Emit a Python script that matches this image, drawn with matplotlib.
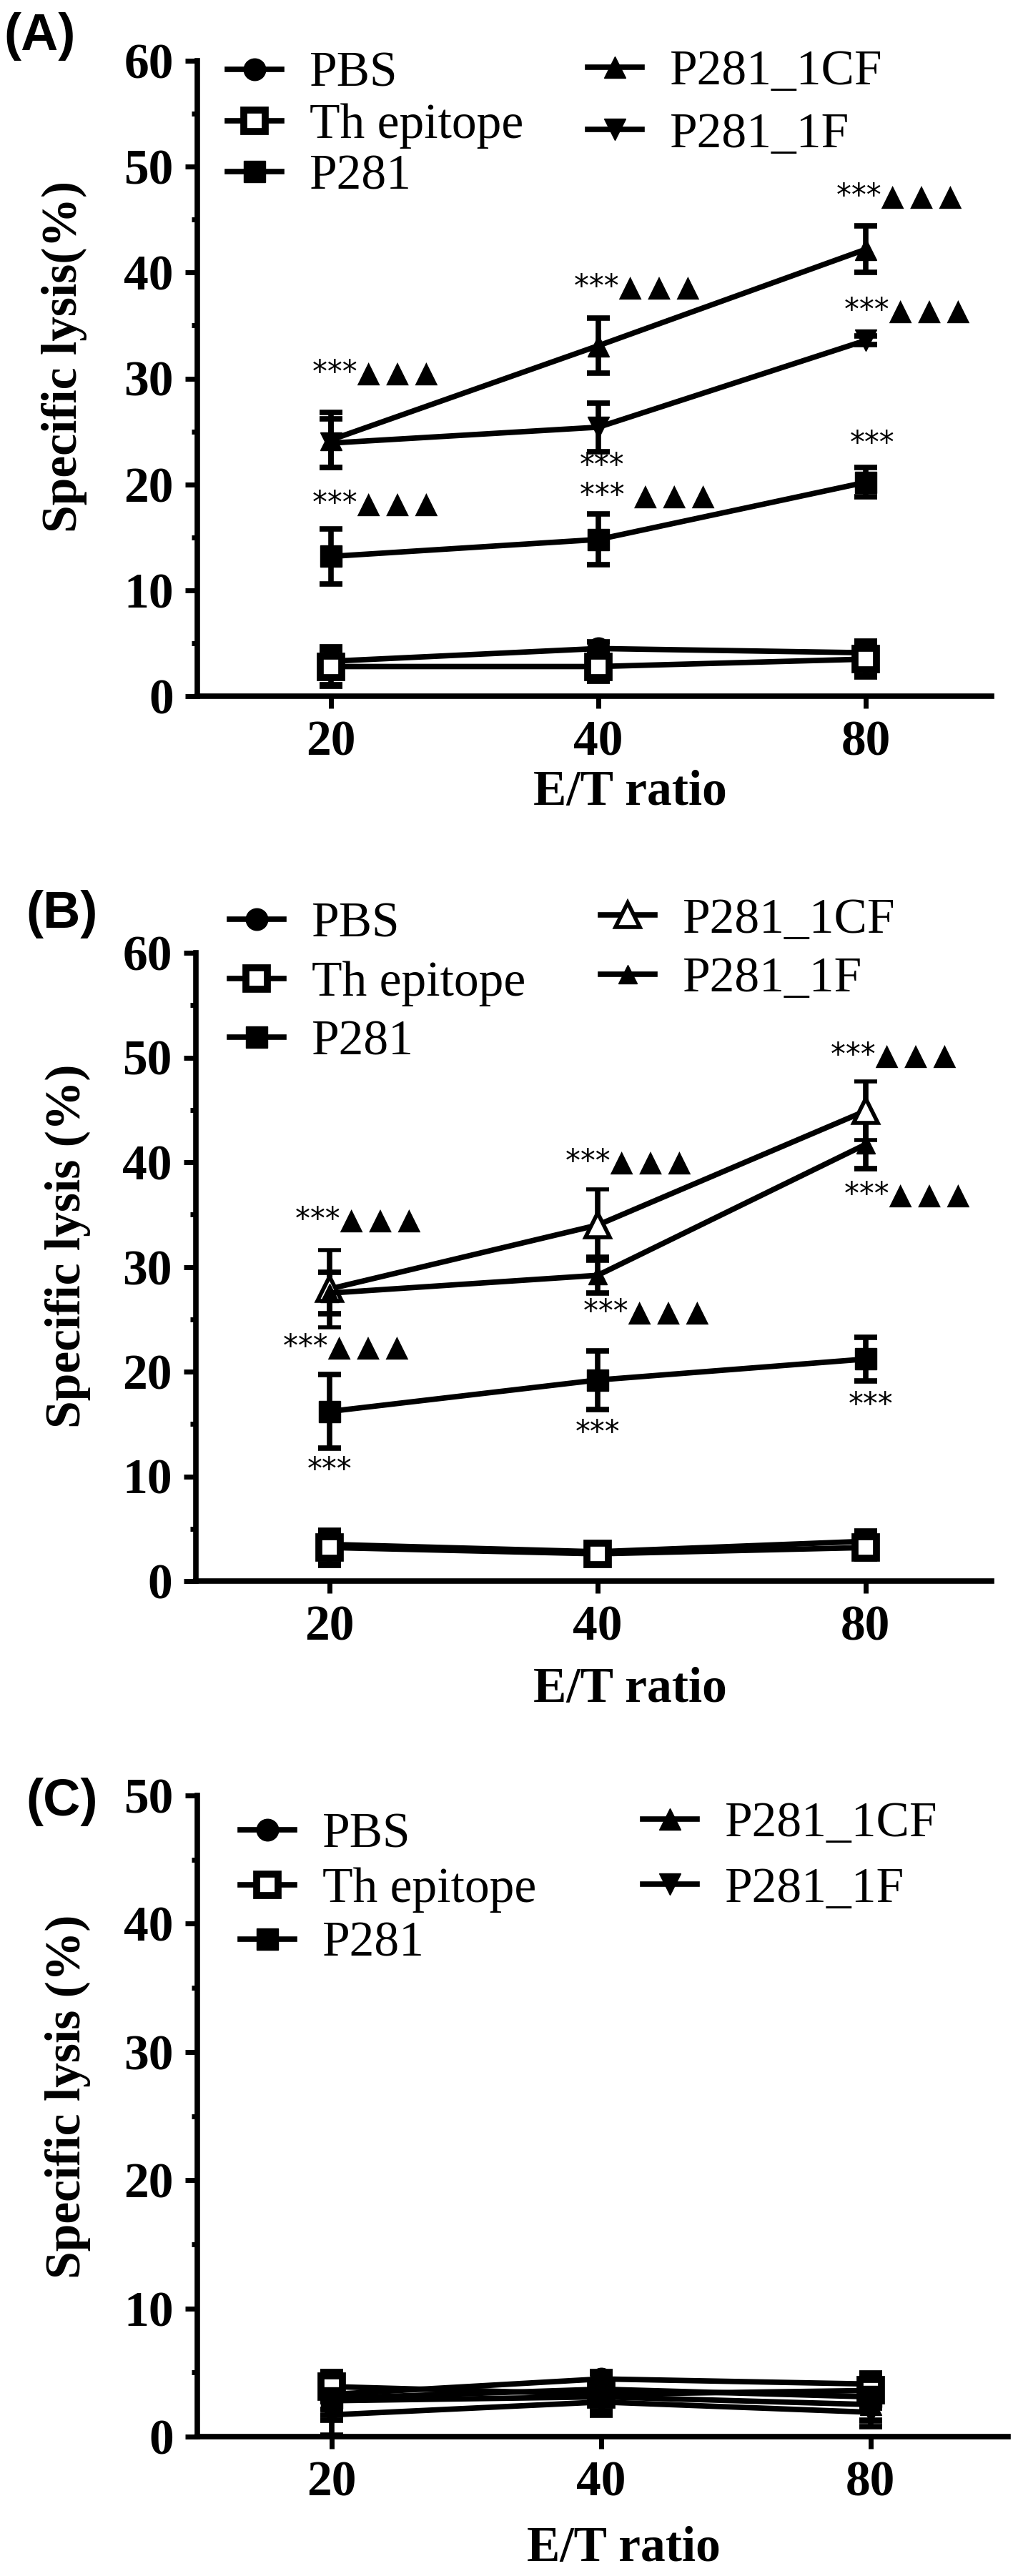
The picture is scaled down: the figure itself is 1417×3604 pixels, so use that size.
import matplotlib.pyplot as plt
import numpy as np
from matplotlib.ticker import MultipleLocator

plt.rcParams['font.family'] = ['Liberation Serif', 'DejaVu Sans']

# ---- data ----
ratios = ['20', '40', '80']
groups = ['PBS', 'Th epitope', 'P281', 'P281_1CF', 'P281_1F']

# panel A
pbs_a = [3.3, 4.5, 4.1]
pbs_a_err = [1.0, 0.6, 0.9]
th_a = [2.8, 2.8, 3.5]
th_a_err = [1.8, 1.3, 1.6]
p281_a = [13.2, 14.8, 20.2]
p281_a_err = [2.6, 2.4, 1.4]
cf_a = [24.2, 33.1, 42.2]
cf_a_err = [2.6, 2.6, 2.2]
f_a = [23.9, 25.4, 33.6]
f_a_err = [2.3, 2.3, 0.4]

# panel B
pbs_b = [3.5, 2.8, 3.8]
pbs_b_err = [0.8, 0.5, 1.0]
th_b = [3.2, 2.6, 3.2]
th_b_err = [1.6, 0.8, 1.0]
p281_b = [16.2, 19.2, 21.2]
p281_b_err = [3.5, 2.8, 2.1]
cf_b = [27.9, 34.0, 44.9]
cf_b_err = [3.7, 3.4, 2.8]
f_b = [27.5, 29.2, 41.7]
f_b_err = [2.0, 1.7, 2.3]

# panel C
pbs_c = [3.3, 4.5, 4.1]
pbs_c_err = [1.2, 0.6, 0.8]
th_c = [3.9, 3.3, 3.6]
th_c_err = [1.1, 0.8, 1.3]
p281_c = [3.0, 3.7, 3.1]
p281_c_err = [1.3, 1.2, 1.8]
cf_c = [2.8, 3.1, 2.5]
cf_c_err = [1.5, 1.1, 1.3]
f_c = [1.7, 2.7, 1.9]
f_c_err = [1.6, 1.0, 1.1]

# significance labels: (x index, y value, text, alignment)
tri = '▲\u2009▲\u2009▲'
notes_a = [(-0.07, 30.5, '***' + tri, 'left'), (-0.07, 18.2, '***' + tri, 'left'),
           (0.91, 38.6, '***' + tri, 'left'), (0.93, 21.7, '***', 'left'),
           (0.93, 18.9, '*** ' + tri, 'left'), (1.89, 47.2, '***' + tri, 'left'),
           (1.92, 36.4, '***' + tri, 'left'), (1.94, 23.8, '***', 'left')]
notes_b = [(-0.13, 34.5, '***' + tri, 'left'), (-0.175, 22.3, '***' + tri, 'left'),
           (0.0, 10.6, '***', 'center'), (0.88, 40.0, '***' + tri, 'left'),
           (0.945, 25.7, '***' + tri, 'left'), (1.0, 14.1, '***', 'center'),
           (1.87, 50.2, '***' + tri, 'left'), (1.92, 36.9, '***' + tri, 'left'),
           (2.02, 16.8, '***', 'center')]

W, H = 1417, 3604
fig = plt.figure(figsize=(W / 100, H / 100), dpi=100)


def fpos(x, y):
    return (x / W, 1 - y / H)


def add_panel(left, top, right, bottom):
    return fig.add_axes([left / W, 1 - bottom / H, (right - left) / W, (bottom - top) / H])


x = np.arange(len(ratios))


def draw(ax, series, styles, ymax, xmax):
    handles = []
    for (vals, errs), st in zip(series, styles):
        c = ax.errorbar(x, vals, yerr=errs, color='black', lw=5.5, elinewidth=5.5,
                        capsize=11.5, capthick=5.5, mec='black', clip_on=False, **st)
        handles.append(c[0])
    ax.set_xlim(-0.5, xmax)
    ax.set_ylim(0, ymax)
    ax.set_xticks(x)
    ax.set_xticklabels(ratios, fontsize=50, fontweight='bold')
    yt = np.arange(0, ymax + 1, 10)
    ax.set_yticks(yt)
    ax.set_yticklabels([str(v) for v in yt], fontsize=50, fontweight='bold')
    ax.yaxis.set_minor_locator(MultipleLocator(5))
    for s in ['top', 'right']:
        ax.spines[s].set_visible(False)
    for s in ['left', 'bottom']:
        ax.spines[s].set_linewidth(5.5)
    ax.tick_params(axis='both', which='major', length=12, width=5, pad=12)
    ax.tick_params(axis='y', which='minor', length=6, width=5)
    ax.tick_params(axis='x', which='minor', length=0)
    return handles


def legends(ax, handles, c1, ls1, c2, ls2):
    kw = dict(loc='center left', bbox_transform=fig.transFigure, frameon=False,
              borderpad=0, borderaxespad=0, handlelength=1.1, handletextpad=0.55,
              numpoints=1, prop={'family': 'Liberation Serif', 'size': 50})
    l1 = ax.legend(handles[:3], groups[:3], bbox_to_anchor=fpos(*c1), labelspacing=ls1, **kw)
    ax.add_artist(l1)
    ax.legend(handles[3:], groups[3:], bbox_to_anchor=fpos(*c2), labelspacing=ls2, **kw)


ms = 22
st_pbs = dict(marker='o', ms=ms, mfc='black')
st_th = dict(marker='s', ms=22, mfc='white', mew=7)
st_p281 = dict(marker='s', ms=22, mfc='black')
st_up = dict(marker='^', ms=ms, mfc='black')
st_down = dict(marker='v', ms=ms, mfc='black')
st_up_open = dict(marker='^', ms=24, mfc='white', mew=4)

note_font = dict(fontsize=30, family='DejaVu Sans', va='center')

# ---- panel A ----
ax_a = add_panel(276, 85, 1387, 974)
h = draw(ax_a, [(pbs_a, pbs_a_err), (th_a, th_a_err), (p281_a, p281_a_err),
                (cf_a, cf_a_err), (f_a, f_a_err)],
         [st_pbs, st_th, st_p281, st_up, st_down], 60, 2.47)
legends(ax_a, h, (318, 176), 0.12, (822, 145), 0.35)
for nx, ny, txt, ha in notes_a:
    ax_a.text(nx, ny, txt, ha=ha, **note_font)

# ---- panel B ----
ax_b = add_panel(274, 1333, 1387, 2212)
h = draw(ax_b, [(pbs_b, pbs_b_err), (th_b, th_b_err), (p281_b, p281_b_err),
                (cf_b, cf_b_err), (f_b, f_b_err)],
         [st_pbs, st_th, st_p281, st_up_open, dict(marker='^', ms=19, mfc='black')], 60, 2.47)
legends(ax_b, h, (321, 1376), 0.27, (840, 1329), 0.27)
for nx, ny, txt, ha in notes_b:
    ax_b.text(nx, ny, txt, ha=ha, **note_font)

# ---- panel C ----
ax_c = add_panel(276, 2512, 1410, 3409)
h = draw(ax_c, [(pbs_c, pbs_c_err), (th_c, th_c_err), (p281_c, p281_c_err),
                (cf_c, cf_c_err), (f_c, f_c_err)],
         [st_pbs, st_th, st_p281, st_up, st_down], 50, 2.51)
legends(ax_c, h, (336, 2644), 0.18, (899, 2598), 0.4)

# axis titles and panel letters
lab = dict(fontsize=50, fontweight='bold', ha='center')
fig.text(*fpos(90, 499), 'Specific lysis(%)', rotation=90, va='center', **lab)
fig.text(*fpos(95, 1743), 'Specific lysis (%)', rotation=90, va='center', **lab)
fig.text(*fpos(95, 2933), 'Specific lysis (%)', rotation=90, va='center', **lab)
fig.text(*fpos(881, 1126), 'E/T ratio', va='baseline', **lab)
fig.text(*fpos(881, 2381), 'E/T ratio', va='baseline', **lab)
fig.text(*fpos(872, 3583), 'E/T ratio', va='baseline', **lab)

pl = dict(fontsize=52, fontweight='bold', family='Liberation Sans', ha='left', va='baseline')
fig.text(*fpos(5, 70), '(A)', **pl)
fig.text(*fpos(36, 1298), '(B)', **pl)
fig.text(*fpos(36, 2540), '(C)', **pl)

fig.savefig('out.png', dpi=100)
